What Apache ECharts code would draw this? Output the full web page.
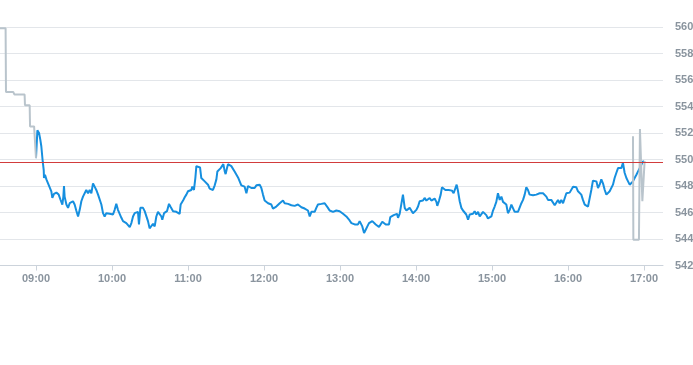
<!DOCTYPE html>
<html>
<head>
<meta charset="utf-8">
<script src="https://cdn.jsdelivr.net/npm/echarts@6/dist/echarts.min.js"></script>
<style>
html,body{margin:0;padding:0;background:#fff;}
#chart{width:693px;height:365px;}
</style>
</head>
<body>
<div id="chart"></div>
<script>
// minutes relative to 09:00
const hourTicks = [0, 60, 120, 180, 240, 300, 360, 420, 480];
const prevClose = 549.8;

const grayPreMinutes = [-30, -24, -23.7, -18, -17, -9, -8.7, -5, -4.7, -1.5, 0];
const grayPreValues  = [559.9, 559.9, 555.1, 555.1, 554.9, 554.9, 554.1, 554.1, 552.5, 552.5, 550.1];

const grayEndMinutes = [471.3, 471.6, 476.0, 476.8, 478.7, 480.5];
const grayEndValues  = [551.75, 543.95, 543.95, 552.3, 546.85, 549.9];

const blueMinutes = [
0,1.1,2.4,3.4,4.2,5.3,6.1,6.3,7.1,8.2,9.5,10.8,12.1,12.9,14.2,16.1,17.9,19.2,20.8,21.6,22.1,22.6,24.0,25.3,26.6,27.9,29.2,30.5,31.8,33.2,34.5,35.8,37.1,38.4,39.7,41.1,42.4,43.7,45.0,46.3,47.6,49.0,50.3,51.6,52.9,54.2,55.5,56.8,58.2,59.5,60.8,62.1,63.4,64.7,66.1,67.4,68.7,70.0,71.3,72.6,74.0,75.3,76.6,77.9,79.2,80.5,81.3,
82.4,83.2,84.5,85.8,87.1,88.4,89.7,91.1,92.4,93.7,95.0,96.3,97.6,99.0,99.7,101.1,102.4,103.4,105.0,106.1,106.8,108.2,109.5,110.8,112.1,113.4,114.2,116.1,117.4,118.7,120.0,121.3,122.6,123.4,124.7,125.8,126.6,127.9,129.5,130.5,131.8,133.2,134.5,135.8,137.1,138.4,139.7,141.1,142.4,143.2,144.5,145.8,146.8,147.9,149.0,149.7,150.8,151.6,152.9,154.2,155.5,156.8,158.2,159.5,160.8,162.1,163.4,164.7,166.1,167.4,
168.7,170.0,171.3,172.6,174.0,175.3,176.6,177.9,179.2,180.5,181.8,183.2,184.5,185.8,187.1,188.4,189.7,191.1,192.4,193.7,195.0,196.3,197.6,199.0,200.3,201.6,202.9,204.2,205.5,206.8,208.2,209.5,210.8,212.1,213.4,214.7,216.1,217.4,218.7,220.0,221.3,222.6,224.0,225.3,226.6,227.9,229.2,230.5,231.8,233.2,234.5,235.8,237.1,238.4,239.7,241.1,242.4,243.7,245.0,246.3,247.6,249.0,250.3,251.6,252.9,254.2,
255.5,256.8,257.6,259.0,260.3,261.6,262.9,264.2,265.5,266.8,268.2,269.5,270.8,272.1,273.4,274.7,276.1,277.4,278.7,279.7,281.1,282.4,283.7,285.0,285.8,287.1,288.4,289.7,291.1,292.4,293.7,295.0,296.3,297.6,299.0,300.3,301.6,302.9,304.2,305.5,306.8,308.2,309.5,310.8,312.1,313.4,314.7,316.1,316.8,318.2,319.5,320.5,321.8,323.2,324.5,325.8,327.1,328.4,329.7,331.1,332.1,333.2,334.5,335.8,337.1,338.4,339.7,341.1,
342.4,343.7,345.0,346.3,347.6,349.0,350.3,351.6,352.9,354.2,355.5,356.8,358.2,359.5,360.8,362.1,363.4,364.7,366.1,367.4,368.7,370.0,371.3,372.6,374.0,375.3,376.6,377.9,379.2,380.5,381.8,383.2,384.5,385.8,387.1,388.4,389.7,391.1,392.4,393.7,395.0,396.3,397.6,399.0,400.3,401.6,402.9,404.2,405.5,406.8,408.2,409.5,410.8,412.1,413.4,414.7,416.1,417.4,418.7,420.0,421.3,422.6,424.0,425.3,426.6,427.9,
429.2,430.5,431.8,433.2,434.5,435.8,437.1,438.4,439.7,441.1,442.4,443.7,445.0,446.3,447.6,449.0,450.3,451.6,452.9,454.2,455.5,456.8,458.2,459.5,460.8,462.1,463.4,464.7,466.1,467.4,468.7,470.0,471.3,472.6,474.0,475.3,476.6,477.9,479.2,480.0
];
const blueValues = [
550.1,552.2,552.0,551.5,551.0,549.85,549.2,548.6,548.85,548.5,548.2,548.1,547.6,547.1,547.4,547.5,547.35,547.0,546.6,547.2,548.0,547.2,546.6,546.35,546.7,546.6,546.85,546.6,546.15,545.7,546.2,546.85,547.2,547.35,547.7,547.45,547.7,547.45,548.2,547.95,547.7,547.35,547.3,546.6,545.95,545.7,545.95,546.05,545.9,546.05,545.85,546.2,546.65,546.2,546.1,545.6,545.35,545.3,545.2,545.1,544.9,545.2,545.7,545.95,546.05,546.05,545.1,
546.35,546.45,546.35,546.1,546.05,545.35,544.8,544.7,545.15,544.95,545.7,546.05,545.95,545.7,545.45,545.95,545.95,546.1,546.65,546.45,546.35,546.1,546.05,546.05,546.05,545.9,546.6,546.9,547.15,547.35,547.6,547.65,547.7,547.95,547.7,548.6,549.5,549.5,549.4,548.6,548.55,548.35,548.3,548.1,547.8,547.65,547.7,548.05,548.5,549.1,549.25,549.35,549.35,549.65,549.1,548.9,549.35,549.65,549.6,549.5,549.35,549.1,549.0,548.65,548.5,548.05,548.0,547.95,547.45,548.0,
547.95,547.85,547.7,547.85,548.05,547.95,548.1,547.85,547.35,546.9,546.8,546.7,546.8,546.6,546.3,546.35,546.45,546.6,546.7,546.85,546.9,546.7,546.6,546.65,546.55,546.55,546.6,546.5,546.55,546.6,546.65,546.4,546.3,546.3,546.2,546.15,545.7,546.05,545.9,546.05,546.35,546.6,546.45,546.65,546.7,546.7,546.65,546.35,546.15,546.05,546.05,545.95,546.15,546.2,546.1,546.05,545.9,545.85,545.7,545.55,545.4,545.2,545.15,545.1,545.15,545.1,
545.35,545.45,544.95,544.45,544.7,544.95,545.2,545.1,545.35,545.45,545.1,544.95,544.9,544.95,545.3,545.15,545.1,545.1,545.1,545.65,545.55,545.8,545.65,545.9,545.6,545.9,545.85,547.35,546.35,546.15,546.2,546.35,546.15,545.95,546.05,546.2,546.45,546.85,546.8,546.9,547.1,546.9,546.95,547.1,546.9,546.95,547.05,546.8,546.5,546.9,547.35,547.9,547.8,547.7,547.6,547.7,547.6,547.65,547.45,547.6,548.1,547.6,546.85,546.35,546.15,546.05,545.85,545.45,
545.85,545.95,545.9,546.1,545.85,546.05,545.7,545.85,546.05,545.95,545.8,545.55,545.45,545.7,546.15,546.45,546.8,547.45,546.95,547.2,546.8,546.65,546.6,545.95,546.2,546.6,546.45,546.05,546.15,546.05,546.2,546.7,546.95,547.35,547.9,547.7,547.35,547.45,547.3,547.45,547.35,547.45,547.45,547.45,547.45,547.4,547.2,546.95,546.8,546.95,546.8,546.55,546.7,546.95,546.7,546.95,546.7,546.8,547.45,547.55,547.5,547.6,547.95,548.1,547.9,547.6,
547.6,547.35,546.95,546.6,546.45,546.45,546.45,547.7,548.4,548.5,548.35,547.85,548.1,548.5,548.2,547.7,547.35,547.35,547.6,547.7,548.1,548.6,549.0,549.35,549.5,549.35,549.75,549.0,548.6,548.35,548.1,548.2,548.35,548.6,548.85,549.1,549.35,549.6,549.85,549.85
];

function pairs(xs, ys) { return xs.map((x, i) => [x, ys[i]]); }
function fmtMinute(m) {
  const total = 9 * 60 + m;
  const h = Math.floor(total / 60), mm = Math.round(total % 60);
  return String(h).padStart(2, '0') + ':' + String(mm).padStart(2, '0');
}

const chart = echarts.init(document.getElementById('chart'), null, { renderer: 'canvas' });
const labelColor = '#8a949e';
chart.setOption({
  animation: false,
  grid: { left: -2, right: 30, top: 27, bottom: 99.5, containLabel: false, outerBoundsMode: 'none' },
  xAxis: {
    type: 'value',
    min: -30,
    max: 495,
    splitLine: { show: false },
    axisLine: { show: true, lineStyle: { color: '#ccd3db', width: 1 } },
    axisTick: { show: true, customValues: hourTicks, length: 5, lineStyle: { color: '#ccd3db' } },
    axisLabel: {
      customValues: hourTicks,
      formatter: v => fmtMinute(v),
      color: labelColor, fontSize: 11, fontWeight: 'bold',
      fontFamily: 'Liberation Sans, Arial, sans-serif', margin: 8
    }
  },
  yAxis: {
    type: 'value',
    position: 'right',
    min: 542, max: 560, interval: 2,
    axisLine: { show: false },
    axisTick: { show: false },
    splitLine: { show: true, lineStyle: { color: '#e3e6ea', width: 1 } },
    axisLabel: {
      color: labelColor, fontSize: 11, fontWeight: 'bold',
      fontFamily: 'Liberation Sans, Arial, sans-serif', margin: 12
    }
  },
  series: [
    {
      type: 'line', name: 'main', data: pairs(blueMinutes, blueValues),
      showSymbol: false, symbol: 'none',
      lineStyle: { color: '#168fdf', width: 2 },
      z: 2,
      markLine: {
        silent: true, symbol: ['none', 'none'],
        label: { show: false },
        lineStyle: { color: '#d23c3c', width: 1, type: 'solid' },
        data: [{ yAxis: prevClose }]
      }
    },
    {
      type: 'line', name: 'pre', data: pairs(grayPreMinutes, grayPreValues),
      showSymbol: false, symbol: 'none',
      lineStyle: { color: '#b9c4cc', width: 2 }, z: 3
    },
    {
      type: 'line', name: 'post', data: pairs(grayEndMinutes, grayEndValues),
      showSymbol: false, symbol: 'none',
      lineStyle: { color: '#b9c4cc', width: 2 }, z: 3
    }
  ]
});
</script>
</body>
</html>
